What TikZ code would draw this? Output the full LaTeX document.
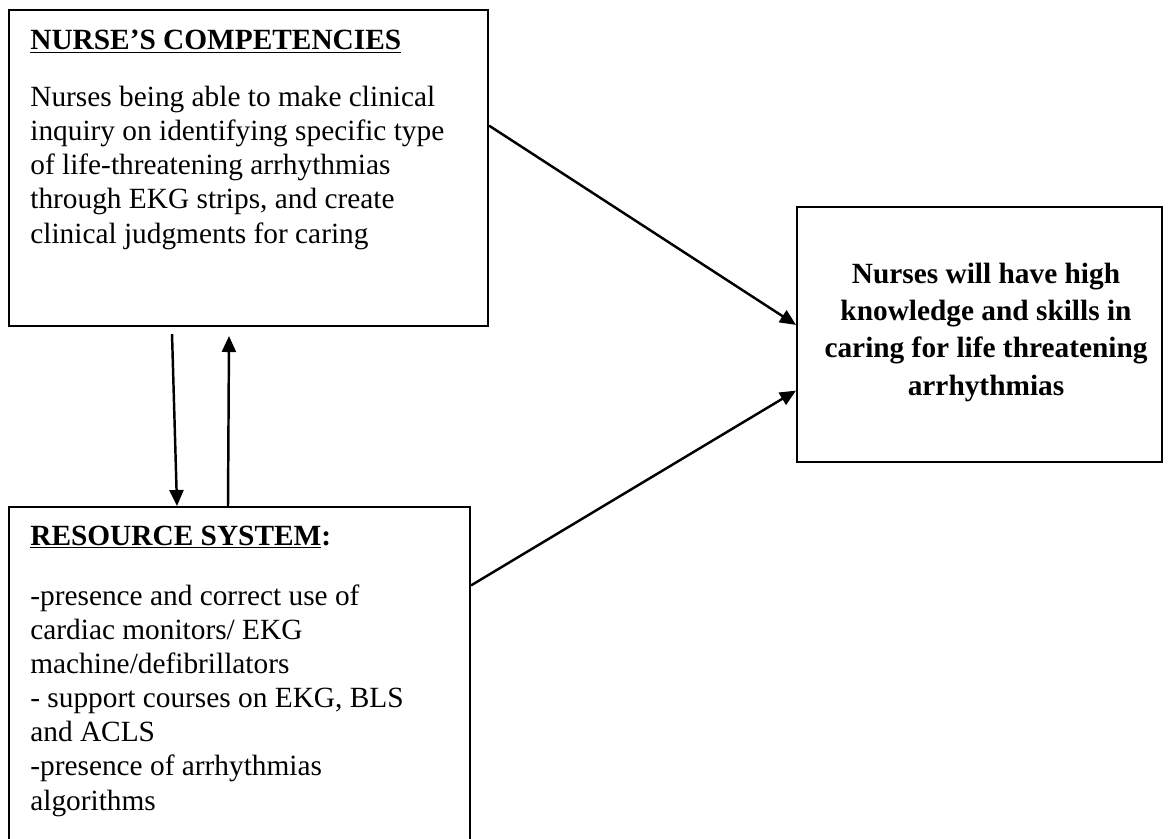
\documentclass[tikz,border=0pt]{standalone}
\usepackage{fontspec}
\setmainfont{Liberation Serif}
\usepackage{tikz}
\usetikzlibrary{arrows.meta}

\begin{document}
\begin{tikzpicture}[
    x=0.02cm, y=-0.02cm,
    box/.style={rectangle, draw=black, line width=1.2pt, inner sep=0pt},
    txt/.style={inner sep=0pt, anchor=base west, align=left, font=\fontsize{16.7}{19.4}\selectfont},
    head/.style={txt, font=\fontsize{16.7}{19.4}\selectfont\bfseries},
    goal/.style={inner sep=0pt, anchor=base, align=center, font=\fontsize{16.7}{21.2}\selectfont\bfseries},
    arrow/.style={-{Triangle[length=3.2mm, width=2.8mm]}, line width=1.4pt, draw=black}
]
\useasboundingbox (0,0) rectangle (1172,838);
% boxes
\node (competencies) [box, minimum width=9.58cm, minimum height=6.32cm] at (248.5,168) {};
\node (outcome) [box, minimum width=7.3cm, minimum height=5.1cm] at (979.5,334.5) {};
\node (resources) [box, minimum width=9.22cm, minimum height=7.26cm] at (239.5,688.5) {};
% texts (base = last line)
\node (comphead) [head] at (30,50) {\underline{NURSE’S COMPETENCIES}};
\node (comptext) [txt] at (30,243) {Nurses being able to make clinical\\inquiry on identifying specific type\\of life-threatening arrhythmias\\through EKG strips, and create\\clinical judgments for caring};
\node (goaltext) [goal] at (986,395) {Nurses will have high\\knowledge and skills in\\caring for life threatening\\arrhythmias};
\node (reshead) [head] at (30,545) {\underline{RESOURCE SYSTEM}:};
\node (restext) [txt] at (30,810) {-presence and correct use of\\cardiac monitors/ EKG\\machine/defibrillators\\- support courses on EKG, BLS\\and ACLS\\-presence of arrhythmias\\algorithms};
% connectors
\draw [arrow] (competencies.10.6) -- (outcome.177);
\draw [arrow] (resources.24.6) -- (outcome.197.2);
\draw [arrow] ([xshift=-1.53cm, yshift=-0.14cm]competencies.south) -- ([xshift=-1.25cm]resources.north);
\draw [arrow] ([xshift=-0.23cm]resources.north) -- ([xshift=-0.39cm, yshift=-0.18cm]competencies.south);
\end{tikzpicture}
\end{document}
